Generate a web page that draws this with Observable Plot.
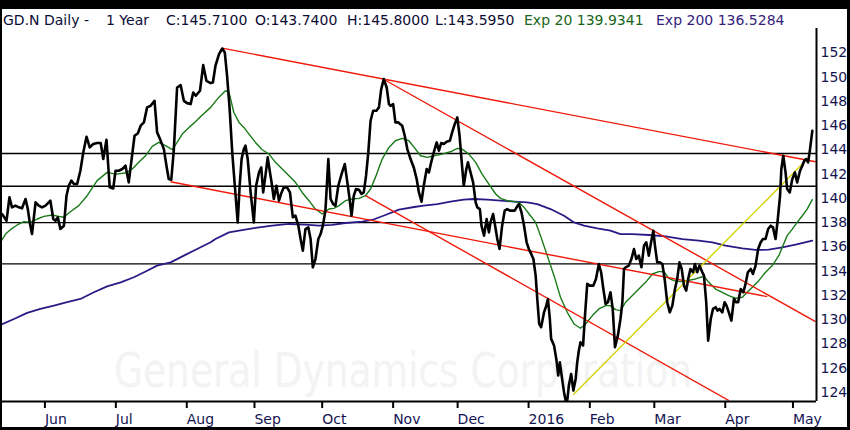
<!DOCTYPE html>
<html><head><meta charset="utf-8">
<script src="https://cdn.jsdelivr.net/npm/d3@7"></script>
<script src="https://cdn.jsdelivr.net/npm/@observablehq/plot@0.6"></script>
<style>
html,body{margin:0;padding:0;background:#fff}
#wrap{position:relative;width:850px;height:430px;box-sizing:border-box;border-style:solid;border-color:#000;border-width:9px 3px 3px 2px;background:#fff;overflow:hidden;font-family:"DejaVu Sans",sans-serif}
#title{position:relative;height:19px;font-size:14px;color:#0c0c34;white-space:nowrap}
#title span{position:absolute;top:2px;line-height:19px}
#chart svg{display:block}
</style></head>
<body>
<div id="wrap">
  <div id="title">
    <span style="left:1px">GD.N Daily -</span>
    <span style="left:104px">1 Year</span>
    <span style="left:164px">C:145.7100</span>
    <span style="left:253px">O:143.7400</span>
    <span style="left:345px">H:145.8000</span>
    <span style="left:433px">L:143.5950</span>
    <span style="left:522px;color:#17661a">Exp 20 139.9341</span>
    <span style="left:654px;color:#36207e">Exp 200 136.5284</span>
  </div>
  <div id="chart"></div>
</div>
<script>
// trading-day index (0 = 1 Jun 2015) and daily close
const priceDay = [-13.3,-11.9,-11.0,-10.2,-9.1,-8.1,-7.1,-6.0,-5.3,-4.7,-4.0,-2.9,-1.9,-0.9,0.2,1.7,2.6,3.3,4.0,4.8,5.9,6.7,7.4,8.2,9.0,10.0,11.0,11.9,12.9,13.9,15.0,16.2,17.3,18.1,19.1,20.1,21.2,21.9,22.9,24.0,25.0,26.0,26.9,27.8,28.8,29.7,30.7,31.7,32.8,34.0,34.8,35.7,36.9,37.7,38.4,39.2,40.0,41.0,42.1,43.1,44.1,45.2,46.0,46.8,48.1,49.1,50.1,51.4,
52.1,52.9,54.0,55.0,55.8,56.5,57.3,58.1,58.9,59.8,60.4,61.0,61.7,62.2,62.9,63.8,64.8,65.5,66.4,67.1,67.7,68.4,69.1,69.8,70.3,71.0,71.8,72.6,73.4,74.1,75.1,76.0,76.9,77.7,78.6,79.3,80.0,80.8,81.7,82.4,83.1,83.9,84.8,85.5,86.2,87.0,87.9,88.6,89.4,90.1,91.0,92.0,93.0,93.8,94.5,95.1,95.8,96.5,97.4,98.2,98.9,99.6,100.3,101.0,101.8,102.8,103.6,104.3,105.1,106.0,106.7,107.2,108.0,108.7,109.6,110.8,111.6,112.4,113.4,114.4,
115.3,116.0,116.8,117.5,118.4,119.1,119.8,120.6,121.5,122.2,122.9,123.7,124.6,125.6,126.3,127.1,127.9,128.6,129.2,129.9,130.7,131.2,132.0,132.8,133.6,134.1,134.9,135.4,136.2,137.0,137.7,138.2,139.0,139.8,140.3,141.0,141.8,142.6,143.4,144.2,144.9,145.7,146.3,147.0,147.8,148.6,149.4,150.1,150.6,151.5,152.2,152.7,153.3,153.9,154.8,155.5,156.0,156.6,157.0,157.9,158.6,159.2,159.7,160.4,161.0,161.5,162.0,162.5,163.2,163.9,164.6,165.1,165.6,166.1,166.9,167.5,168.2,169.0,170.1,170.9,171.8,172.5,173.2,173.9,174.6,175.4,176.1,176.8,177.7,178.5,
179.1,179.6,180.1,181.1,181.9,182.7,183.4,184.2,185.0,185.8,186.5,187.3,188.0,188.7,189.2,189.9,190.7,191.5,192.2,193.0,193.8,194.6,195.4,196.1,196.8,197.5,198.2,198.9,199.5,200.2,201.0,201.6,202.3,203.0,203.9,204.4,205.1,205.7,206.5,207.2,208.0,208.6,209.2,210.1,210.8,211.4,212.1,212.9,213.7,214.4,215.0,215.8,216.6,217.3,218.0,218.9,219.6,220.4,221.2,222.0,222.7,223.5,224.3,225.1,225.8,226.6,227.3,228.0,228.4,229.0,229.7,230.2,231.0,231.8,232.6,233.3,234.2,234.9,235.5,236.1,236.7,237.3,238.0];
const priceClose = [138.71,138.16,140.08,139.26,139.40,139.26,139.18,139.95,139.12,138.02,137.06,139.67,139.40,139.26,139.40,139.81,138.30,138.16,138.44,137.48,137.75,140.22,141.04,141.46,141.18,141.18,142.28,143.79,145.08,144.20,144.48,144.56,144.56,143.24,144.83,140.91,140.82,142.28,142.28,142.42,142.69,141.32,143.24,145.16,145.35,145.99,146.26,147.50,147.63,148.04,145.44,144.89,144.06,142.69,141.59,141.54,144.06,149.14,149.33,148.04,147.85,147.77,148.73,148.46,148.87,150.98,149.69,149.50,
149.55,150.93,151.89,152.35,152.02,150.10,147.36,143.79,141.04,138.02,141.04,143.24,144.06,144.34,143.24,140.49,138.02,141.04,142.14,142.55,140.49,141.87,143.38,142.14,141.32,139.95,141.04,139.81,140.49,140.91,140.91,140.49,138.44,138.57,137.75,136.65,135.69,137.47,137.61,136.65,134.32,135.00,136.65,137.06,137.75,138.99,143.24,139.95,139.53,139.40,141.04,142.00,142.83,141.32,139.95,138.57,140.22,140.77,140.71,140.36,140.49,141.87,143.79,146.40,147.22,147.22,147.50,149.00,149.83,149.14,147.77,147.63,147.77,146.26,146.26,145.99,145.16,144.06,143.24,142.55,
141.59,140.49,139.73,141.04,142.42,142.14,142.97,143.79,144.61,143.93,144.56,144.48,144.67,144.75,145.44,146.12,146.67,145.16,143.24,141.04,142.42,142.97,142.14,141.32,139.67,139.26,139.12,137.75,136.93,138.30,137.20,138.02,138.71,137.47,136.65,135.83,137.75,138.99,139.12,138.99,138.99,138.99,139.26,139.53,138.85,137.75,136.38,135.83,135.55,135.00,133.63,131.71,129.65,129.38,130.61,131.16,131.71,130.06,128.42,127.87,126.77,125.40,126.50,125.12,124.03,123.34,123.34,124.57,125.53,124.16,125.12,126.50,127.46,128.14,127.87,130.34,132.95,132.81,132.81,133.36,134.59,133.91,132.53,131.30,131.44,132.26,130.89,127.73,128.69,130.06,
131.44,134.18,134.32,134.46,135.00,135.83,135.00,135.28,134.32,136.10,136.38,135.28,136.38,137.34,136.10,134.73,134.73,134.59,133.36,131.44,130.61,131.16,132.53,133.36,134.73,134.18,132.81,132.40,133.36,134.18,133.91,134.59,133.91,134.46,133.91,133.63,131.44,128.28,130.06,130.89,131.03,130.75,130.89,130.61,131.44,131.16,130.61,129.93,131.71,131.44,131.44,132.53,132.26,132.95,133.91,134.18,133.77,134.46,135.83,136.38,136.65,136.65,137.47,137.75,137.61,136.65,138.30,140.22,142.42,143.51,142.14,140.77,140.49,141.59,142.14,141.32,142.28,142.69,143.10,143.24,142.97,144.06,145.57];

// Exp 20 moving average
const ema20Day = [-13.8,-12.2,-10.7,-8.6,-6.5,-4.5,-2.4,-0.3,2.3,4.3,5.9,7.9,10.5,13.1,16.2,19.3,21.9,25.0,27.1,29.1,31.2,33.3,35.3,37.4,39.5,41.0,42.6,44.7,46.7,48.3,51.4,53.9,56.0,57.1,58.6,60.2,61.7,63.3,65.3,67.4,69.5,71.5,73.6,75.7,77.7,79.8,81.9,83.9,86.0,88.1,89.6,91.2,93.2,95.3,97.4,99.4,101.0,102.5,104.6,106.7,108.7,110.8,112.9,114.95,116.5,118.6,120.6,123.2,125.8,127.9,129.4,131.5,133.6,135.6,137.7,139.8,141.3,143.4,145.5,147.0,148.6,150.6,152.2,153.7,155.8,157.9,159.9,162.0,164.1,166.1,167.7,169.8,171.8,173.9,175.4,177.0,178.5,180.1,182.2,184.2,186.3,188.4,190.4,192.0,193.5,195.1,197.1,199.2,201.8,204.4,205.9,208.0,210.1,212.1,214.2,216.3,217.8,219.4,221.4,223.5,225.6,227.6,228.7,230.2,231.8,233.3,234.9,236.4,238.0];
const ema20Value = [136.38,137.06,137.42,137.81,138.08,138.02,138.30,138.52,138.63,138.52,138.44,138.90,139.40,140.22,141.46,142.14,142.00,142.09,142.42,142.97,143.51,144.28,144.61,144.34,144.01,144.61,145.30,145.85,146.31,146.75,147.50,148.32,148.87,148.73,147.08,146.26,145.85,145.30,144.61,144.01,143.65,142.97,142.42,141.87,141.32,140.49,139.81,139.12,138.71,139.12,139.18,139.40,139.81,139.95,140.00,140.22,140.77,141.73,143.24,144.20,144.75,144.94,144.75,144.06,143.51,143.38,143.51,143.65,143.84,144.12,144.06,143.65,142.97,142.00,141.18,140.36,140.00,139.81,139.73,139.67,139.26,138.57,138.02,136.93,135.28,133.63,131.85,130.61,129.65,129.30,129.65,130.34,130.89,131.16,131.16,130.83,130.75,131.44,131.99,132.53,133.08,133.77,133.96,133.96,133.41,133.22,133.14,133.22,133.36,133.58,133.08,132.53,132.26,131.99,131.77,131.85,132.26,132.67,133.22,133.91,134.46,135.28,135.97,136.93,137.47,138.02,138.57,139.12,139.89];

// Exp 200 moving average
const ema200Day = [-13.8,-9.6,-5.5,-1.4,2.8,6.9,11.0,15.2,19.3,23.5,27.6,31.7,34.8,39.0,43.1,47.2,51.4,52.9,57.1,60.2,65.3,70.5,75.7,80.8,85.0,89.1,93.2,98.4,101.5,105.6,109.8,115.0,117.5,121.7,125.8,129.9,133.0,137.2,141.3,145.5,149.6,152.7,156.8,161.0,164.1,167.2,171.3,175.4,178.5,182.2,187.3,192.5,197.7,202.8,207.0,211.1,216.3,220.4,224.5,228.7,232.8,238.0];
const ema200Value = [129.57,130.06,130.56,130.89,131.16,131.44,131.71,132.26,132.75,133.08,133.50,134.04,134.46,134.73,135.28,135.83,136.38,136.65,137.20,137.34,137.56,137.75,137.89,137.83,137.75,137.81,137.97,138.08,138.22,138.63,139.07,139.31,139.40,139.53,139.73,139.89,139.95,139.89,139.81,139.73,139.67,139.53,139.12,138.57,138.02,137.75,137.53,137.34,137.06,137.06,136.98,136.87,136.65,136.51,136.38,136.10,135.88,135.75,135.77,135.97,136.19,136.51];

// horizontal support / resistance levels
const levels = [143.7, 141.0, 138.0, 134.6];

// trend lines (start day, start price, end day, end price)
const trendKind = ["down", "down", "down", "down", "up"];
const trendDay1 = [55.0, 104.6, 38.96, 99.44, 163.85];
const trendPx1  = [152.38, 149.88, 141.37, 140.22, 123.81];
const trendDay2 = [239.0, 239.0, 224.02, 212.13, 236.95];
const trendPx2  = [143.02, 129.84, 131.90, 123.34, 143.38];

// axis ticks
const monthTicks  = [0, 22, 44, 65, 86, 108, 128, 150, 169, 189, 211, 232];
const monthLabels = ["Jun","Jul","Aug","Sep","Oct","Nov","Dec","2016","Feb","Mar","Apr","May"];
const priceTicks  = [124,126,128,130,132,134,136,138,140,142,144,146,148,150,152];
const watermark = "General Dynamics Corporation";

const xDomain = [-13.15, 239.3];
const yDomain = [123.26, 154.0];

const price  = priceDay.map((d, i) => ({day: d, value: priceClose[i]}));
const ema20  = ema20Day.map((d, i) => ({day: d, value: ema20Value[i]}));
const ema200 = ema200Day.map((d, i) => ({day: d, value: ema200Value[i]}));
const trends = trendKind.map((k, i) => ({kind: k, x1: trendDay1[i], y1: trendPx1[i], x2: trendDay2[i], y2: trendPx2[i]}));
const labelMap = new Map(monthTicks.map((t, i) => [t, monthLabels[i]]));

const wmSize = 37.5;
const chart = Plot.plot({
  width: 845, height: 399,
  marginLeft: 0, marginRight: 31, marginTop: 0, marginBottom: 26,
  style: {fontFamily: "DejaVu Sans, sans-serif", fontSize: "14px", background: "#fff"},
  x: {type: "linear", domain: xDomain, axis: null},
  y: {type: "linear", domain: yDomain, axis: null},
  marks: [
    Plot.text([watermark], {frameAnchor: "bottom-left", textAnchor: "start", lineAnchor: "bottom", fontSize: wmSize, fill: "#f3f3f3"}),
    Plot.ruleY(levels, {stroke: "#000", strokeWidth: 1.3}),
    Plot.line(ema200, {x: "day", y: "value", stroke: "#2b1a86", strokeWidth: 1.8}),
    Plot.line(ema20, {x: "day", y: "value", stroke: "#187a18", strokeWidth: 1.4}),
    Plot.link(trends, {x1: "x1", y1: "y1", x2: "x2", y2: "y2", stroke: d => d.kind === "up" ? "#d2d200" : "#f01a0a", strokeWidth: 1.4, clip: true}),
    Plot.line(price, {x: "day", y: "value", stroke: "#000", strokeWidth: 2.6, strokeLinejoin: "round"}),
    Plot.ruleX([xDomain[1]], {stroke: "#000", strokeWidth: 2}),
    Plot.ruleY([yDomain[0]], {stroke: "#000", strokeWidth: 2}),
    Plot.axisX(monthTicks, {anchor: "bottom", tickFormat: d => labelMap.get(d), textAnchor: "start", tickSize: 7, tickPadding: 6, stroke: "#000", strokeWidth: 2, fill: "#141452", fontSize: 14}),
    Plot.axisY(priceTicks, {anchor: "right", tickSize: 0, tickPadding: 4, fill: "#141452", fontSize: 14})
  ]
});
document.getElementById("chart").appendChild(chart);

// watermark: tall narrow lettering, left edge at x=112, baseline at y=359 (svg px)
const wmNode = d3.select(chart).selectAll("text")
  .filter(function() { return this.textContent === watermark; }).node();
if (wmNode) {
  const markG = wmNode.parentNode;
  const wrap = document.createElementNS("http://www.w3.org/2000/svg", "g");
  markG.insertBefore(wrap, wmNode);
  wrap.appendChild(wmNode);
  let e = 0, f = 0;
  if (markG.transform && markG.transform.baseVal.numberOfItems) {
    const m = markG.transform.baseVal.consolidate().matrix; e = m.e; f = m.f;
  }
  const b = wrap.getBBox();
  const baseline = b.y + b.height - 0.236 * wmSize;
  wrap.setAttribute("transform",
    `translate(${112 - e},${359 - f}) scale(1,1.28) translate(${-b.x},${-baseline})`);
}
</script>
</body></html>
